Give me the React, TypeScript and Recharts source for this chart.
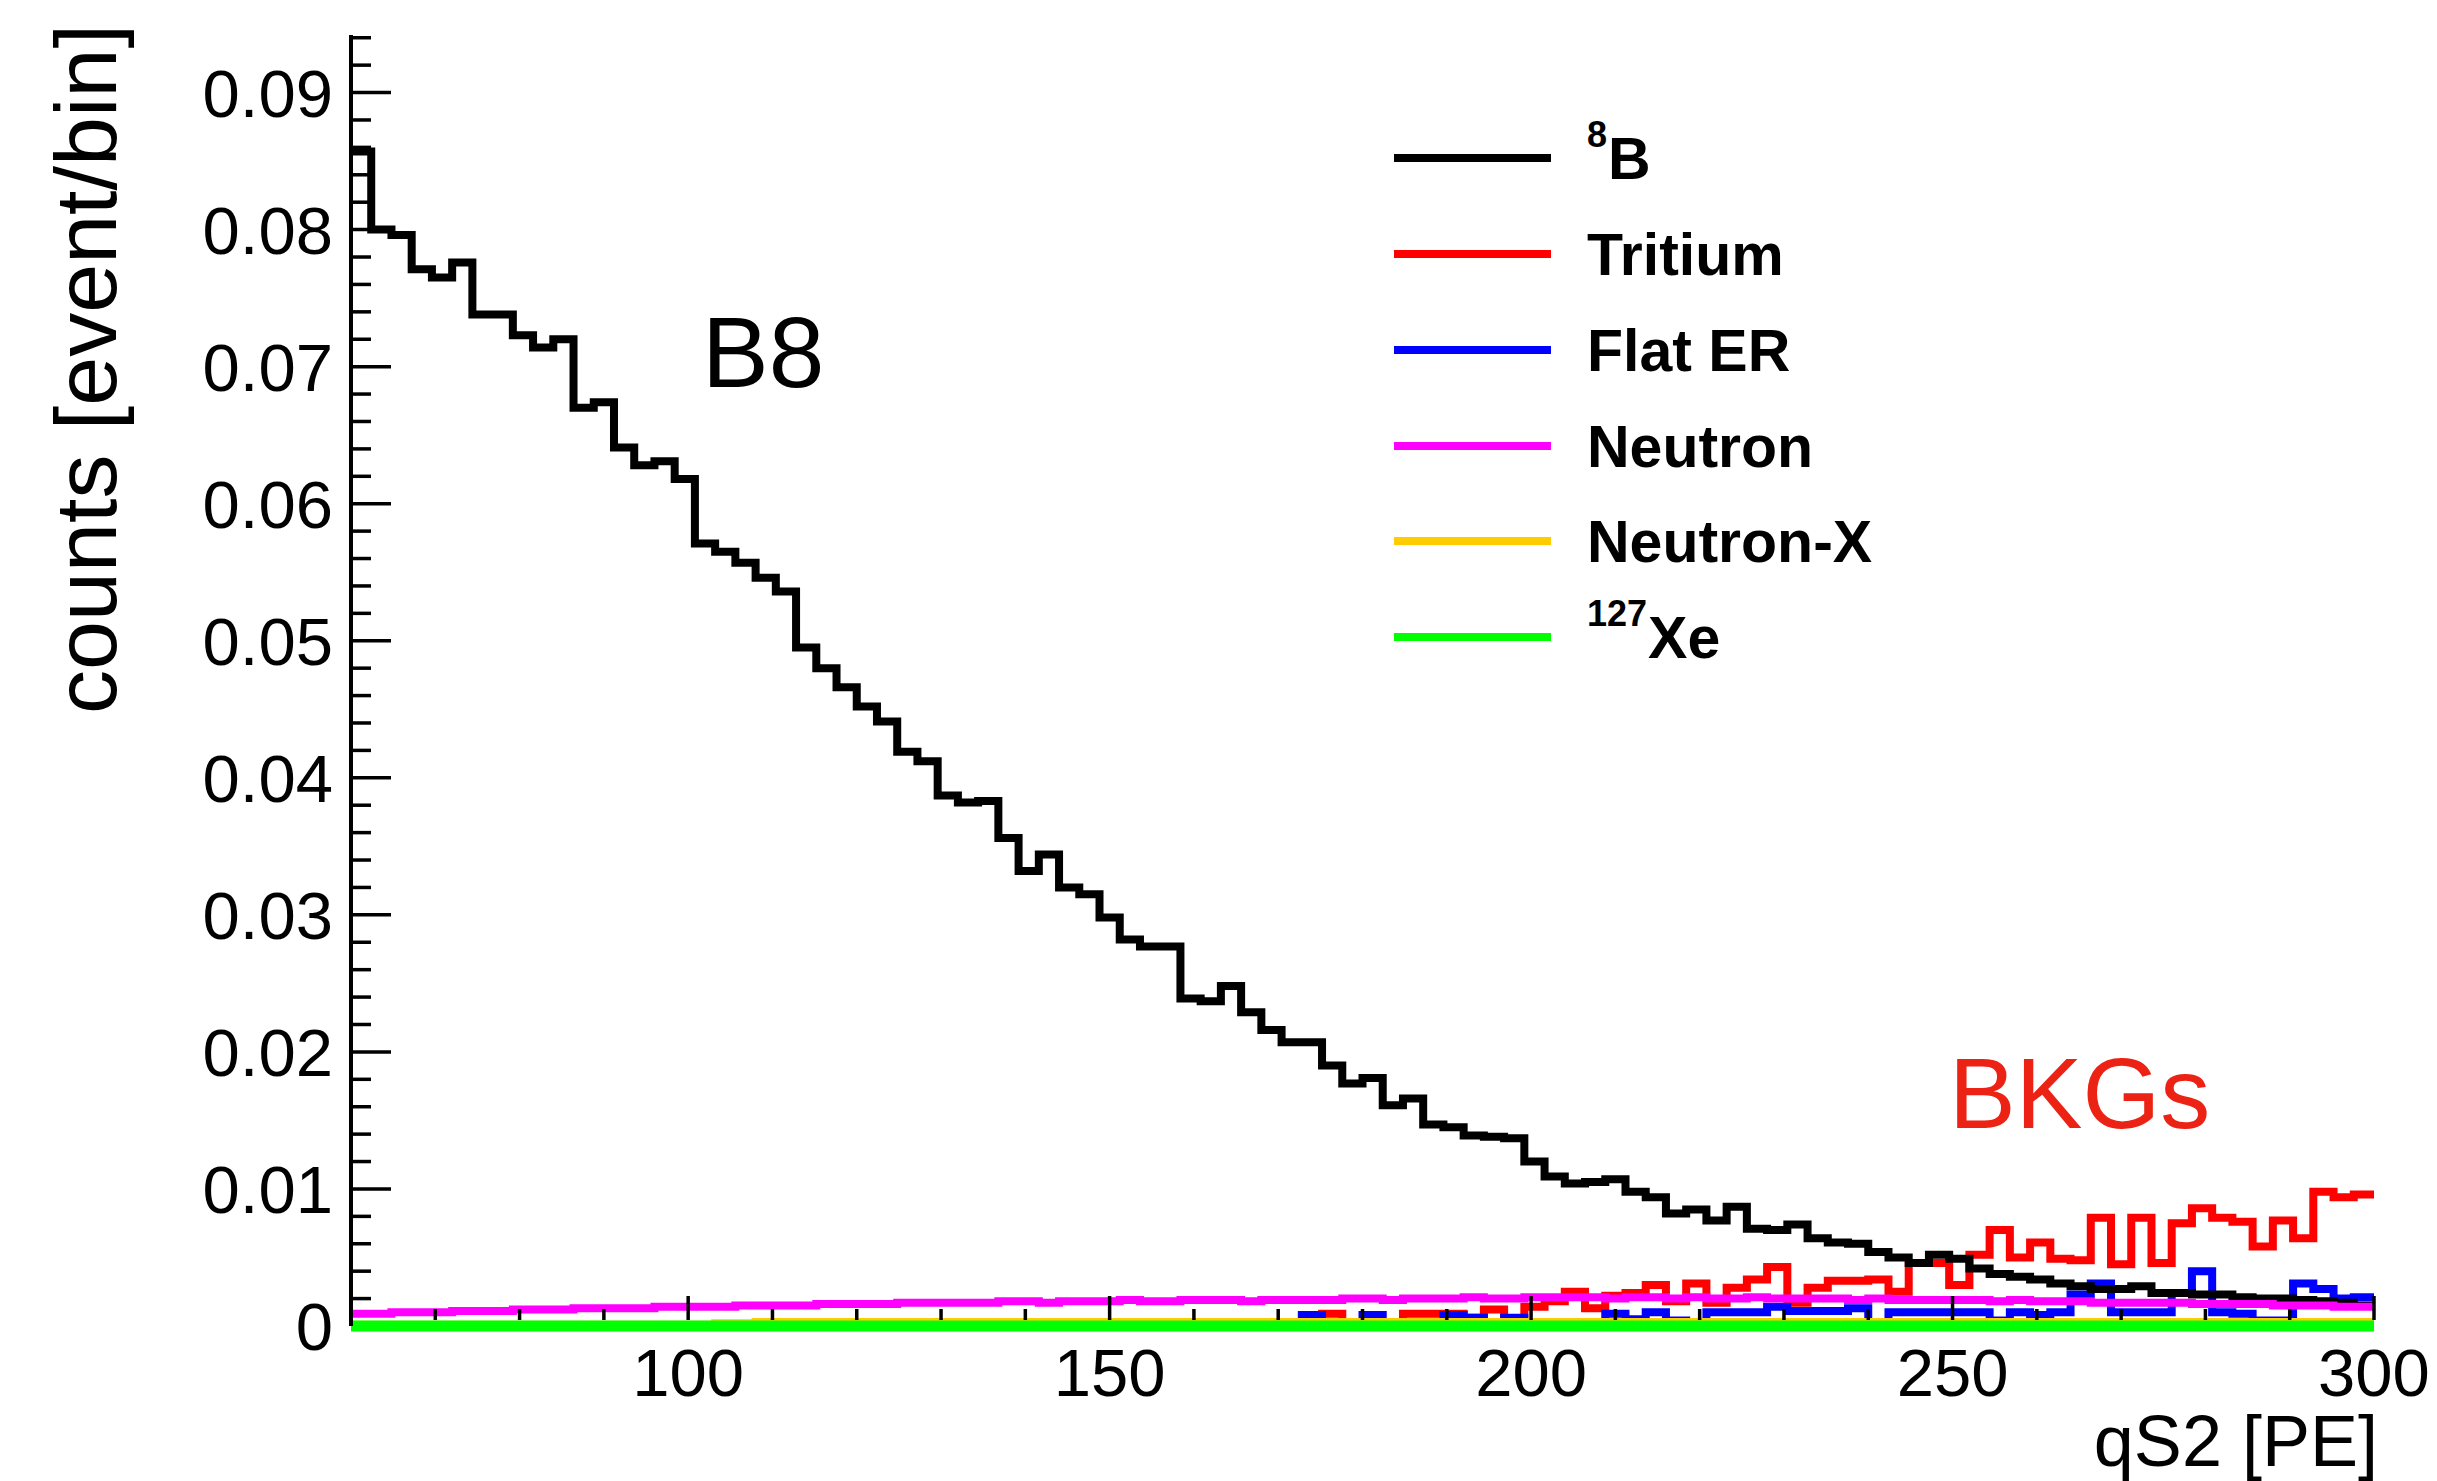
import { Line, LineChart, XAxis, YAxis } from 'recharts';

const FONT = '"Liberation Sans", Arial, Helvetica, sans-serif';
const W = 2437;
const H = 1481;

// 100 bins of 2.4 PE between 60 and 300 PE
const BIN_START = 60;
const BIN_END = 300;
const BIN_WIDTH = 2.4;

const b8 = [
  0.0857, 0.0800, 0.0796, 0.0771, 0.0765, 0.0776, 0.0738, 0.0738, 0.0723, 0.0714,
  0.0720, 0.0670, 0.0674, 0.0641, 0.0628, 0.0631, 0.0618, 0.0571, 0.0565, 0.0557,
  0.0546, 0.0536, 0.0495, 0.0480, 0.0466, 0.0452, 0.0441, 0.0419, 0.0412, 0.0387,
  0.0382, 0.0383, 0.0356, 0.0332, 0.0344, 0.0320, 0.0315, 0.0298, 0.0282, 0.0277,
  0.0277, 0.0239, 0.0237, 0.0248, 0.0229, 0.0216, 0.0207, 0.0207, 0.0190, 0.0177,
  0.0181, 0.0161, 0.0166, 0.0147, 0.0145, 0.0139, 0.0138, 0.0137, 0.0120, 0.0109,
  0.0104, 0.0105, 0.0107, 0.0098, 0.0094, 0.0082, 0.0085, 0.0077, 0.0087, 0.0071,
  0.0070, 0.0074, 0.0064, 0.0061, 0.0060, 0.0054, 0.0050, 0.0046, 0.0052, 0.0049,
  0.0042, 0.0038, 0.0036, 0.0034, 0.0031, 0.0029, 0.0027, 0.0027, 0.0029, 0.0024,
  0.0024, 0.0023, 0.0023, 0.0021, 0.0020, 0.0020, 0.0019, 0.0018, 0.0017, 0.0015,
];

const tritium = [
  0, 0, 0, 0, 0, 0, 0, 0, 0, 0,
  0, 0, 0, 0, 0, 0, 0, 0, 0, 0,
  0, 0, 0, 0, 0, 0, 0, 0, 0, 0.0003,
  0, 0, 0, 0, 0, 0, 0, 0, 0, 0,
  0, 0, 0, 0, 0.0002, 0.0002, 0, 0.0003, 0.0009, 0.0002,
  0.0003, 0.0003, 0.0009, 0.0009, 0.0009, 0.0006, 0.0012, 0.0005, 0.0014, 0.0018,
  0.0025, 0.0013, 0.0022, 0.0024, 0.0030, 0.0018, 0.0031, 0.0017, 0.0028, 0.0034,
  0.0043, 0.0017, 0.0028, 0.0033, 0.0033, 0.0034, 0.0025, 0.0046, 0.0046, 0.0030,
  0.0052, 0.0070, 0.0050, 0.0061, 0.0049, 0.0048, 0.0079, 0.0045, 0.0079, 0.0046,
  0.0075, 0.0086, 0.0079, 0.0076, 0.0058, 0.0077, 0.0064, 0.0098, 0.0094, 0.0096,
];

const flatER = [
  0, 0, 0, 0, 0, 0, 0, 0, 0, 0,
  0, 0, 0, 0, 0, 0, 0, 0, 0, 0,
  0, 0, 0, 0, 0, 0, 0, 0, 0, 0,
  0, 0, 0, 0, 0, 0, 0, 0, 0, 0,
  0, 0, 0, 0, 0, 0, 0.0002, 0.0008, 0.0003, 0.0001,
  0.0008, 0.0002, 0.0002, 0.0002, 0.0008, 0.0006, 0.0002, 0.0006, 0.0002, 0.0002,
  0.0003, 0.0002, 0.0009, 0.0005, 0.0010, 0.0004, 0.0003, 0.0010, 0.0010, 0.0010,
  0.0014, 0.0011, 0.0011, 0.0011, 0.0013, 0.0003, 0.0010, 0.0010, 0.0010, 0.0010,
  0.0010, 0.0004, 0.0010, 0.0008, 0.0010, 0.0023, 0.0031, 0.0010, 0.0010, 0.0010,
  0.0024, 0.0040, 0.0010, 0.0009, 0.0004, 0.0004, 0.0031, 0.0027, 0.0020, 0.0021,
];

const neutron = [
  0.0009, 0.0009, 0.0010, 0.0010, 0.0010, 0.0011, 0.0011, 0.0011, 0.0012, 0.0012,
  0.0012, 0.0013, 0.0013, 0.0013, 0.0013, 0.0014, 0.0014, 0.0014, 0.0014, 0.0015,
  0.0015, 0.0015, 0.0015, 0.0016, 0.0016, 0.0016, 0.0016, 0.0017, 0.0017, 0.0017,
  0.0017, 0.0017, 0.0018, 0.0018, 0.0017, 0.0018, 0.0018, 0.0018, 0.0019, 0.0018,
  0.0018, 0.0019, 0.0019, 0.0019, 0.0018, 0.0019, 0.0019, 0.0019, 0.0019, 0.0020,
  0.0020, 0.0019, 0.0020, 0.0020, 0.0020, 0.0021, 0.0020, 0.0020, 0.0021, 0.0021,
  0.0021, 0.0021, 0.0020, 0.0021, 0.0021, 0.0020, 0.0021, 0.0020, 0.0020, 0.0021,
  0.0020, 0.0020, 0.0020, 0.0020, 0.0019, 0.0020, 0.0019, 0.0019, 0.0019, 0.0019,
  0.0019, 0.0018, 0.0019, 0.0018, 0.0018, 0.0018, 0.0017, 0.0017, 0.0017, 0.0017,
  0.0017, 0.0016, 0.0016, 0.0016, 0.0016, 0.0015, 0.0015, 0.0015, 0.0014, 0.0014,
];

const neutronX = [
  0.0001, 0.0001, 0.0001, 0.0001, 0.0001, 0.0001, 0.0001, 0.0001, 0.0001, 0.0001,
  0.0001, 0.0001, 0.0001, 0.0001, 0.0001, 0.0001, 0.0001, 0.0001, 0.0002, 0.0002,
  0.0003, 0.0003, 0.0003, 0.0003, 0.0003, 0.0003, 0.0003, 0.0003, 0.0003, 0.0003,
  0.0003, 0.0003, 0.0003, 0.0003, 0.0003, 0.0003, 0.0003, 0.0003, 0.0003, 0.0003,
  0.0003, 0.0003, 0.0003, 0.0003, 0.0003, 0.0003, 0.0003, 0.0003, 0.0003, 0.0003,
  0.0003, 0.0003, 0.0003, 0.0003, 0.0003, 0.0003, 0.0003, 0.0003, 0.0003, 0.0003,
  0.0003, 0.0003, 0.0003, 0.0003, 0.0003, 0.0003, 0.0003, 0.0003, 0.0003, 0.0003,
  0.0003, 0.0003, 0.0003, 0.0003, 0.0003, 0.0003, 0.0003, 0.0003, 0.0003, 0.0003,
  0.0003, 0.0003, 0.0003, 0.0003, 0.0003, 0.0003, 0.0003, 0.0003, 0.0003, 0.0003,
  0.0003, 0.0003, 0.0003, 0.0003, 0.0003, 0.0003, 0.0003, 0.0003, 0.0003, 0.0003,
];

const xe127 = [
  0, 0, 0, 0, 0, 0, 0, 0, 0, 0,
  0, 0, 0, 0, 0, 0, 0, 0, 0, 0,
  0, 0, 0, 0, 0, 0, 0, 0, 0, 0,
  0, 0, 0, 0, 0, 0, 0, 0, 0, 0,
  0, 0, 0, 0, 0, 0, 0, 0, 0, 0,
  0, 0, 0, 0, 0, 0, 0, 0, 0, 0,
  0, 0, 0, 0, 0, 0, 0, 0, 0, 0,
  0, 0, 0, 0, 0, 0, 0, 0, 0, 0,
  0, 0, 0, 0, 0, 0, 0, 0, 0, 0,
  0, 0, 0, 0, 0, 0, 0, 0, 0, 0,
];

const xTicks = [60, 70, 80, 90, 100, 110, 120, 130, 140, 150, 160, 170, 180, 190, 200, 210, 220, 230, 240, 250, 260, 270, 280, 290, 300];
const xLabels = [100, 150, 200, 250, 300];

const yTicks = [
  0, 0.002, 0.004, 0.006, 0.008, 0.01, 0.012, 0.014, 0.016, 0.018,
  0.02, 0.022, 0.024, 0.026, 0.028, 0.03, 0.032, 0.034, 0.036, 0.038,
  0.04, 0.042, 0.044, 0.046, 0.048, 0.05, 0.052, 0.054, 0.056, 0.058,
  0.06, 0.062, 0.064, 0.066, 0.068, 0.07, 0.072, 0.074, 0.076, 0.078,
  0.08, 0.082, 0.084, 0.086, 0.088, 0.09, 0.092, 0.094,
];
const yLabels = [0, 0.01, 0.02, 0.03, 0.04, 0.05, 0.06, 0.07, 0.08, 0.09];
const Y_MAX = 0.0942;

// draw order: later series sit on top
const series = [
  { key: 'tritium', values: tritium, color: '#ff0000', width: 8 },
  { key: 'flatER', values: flatER, color: '#0000ff', width: 8 },
  { key: 'b8', values: b8, color: '#000000', width: 8 },
  { key: 'neutron', values: neutron, color: '#ff00ff', width: 8 },
  { key: 'neutronX', values: neutronX, color: '#ffcc00', width: 8 },
  { key: 'xe127', values: xe127, color: '#00ff00', width: 11 },
];

const legendItems = [
  { sup: '8', name: 'B', color: '#000000' },
  { sup: '', name: 'Tritium', color: '#ff0000' },
  { sup: '', name: 'Flat ER', color: '#0000ff' },
  { sup: '', name: 'Neutron', color: '#ff00ff' },
  { sup: '', name: 'Neutron-X', color: '#ffcc00' },
  { sup: '127', name: 'Xe', color: '#00ff00' },
];

// one row per bin low edge, plus the closing edge at 300 PE
const rows = b8.map((_, i) => {
  const row: Record<string, number> = { x: Math.round((BIN_START + i * BIN_WIDTH) * 10) / 10 };
  series.forEach((s) => { row[s.key] = s.values[i]; });
  return row;
});
const closing: Record<string, number> = { x: BIN_END };
series.forEach((s) => { closing[s.key] = s.values[s.values.length - 1]; });
rows.push(closing);

const isLabel = (list: number[], v: number) => list.some((l) => Math.abs(l - v) < 1e-9);

function BottomTick(props: any) {
  const { x, y, payload } = props;
  const major = isLabel(xLabels, payload.value);
  return (
    <g>
      <line x1={x} x2={x} y1={y - 6} y2={y - (major ? 30 : 17)} stroke="#000" strokeWidth={3.5} />
      {major && (
        <text x={x} y={y + 70} textAnchor="middle" fontSize={67} fontFamily={FONT} fill="#000">
          {payload.value}
        </text>
      )}
    </g>
  );
}

function TopTick(props: any) {
  const { x, y, payload } = props;
  const major = isLabel(xLabels, payload.value);
  return <line x1={x} x2={x} y1={y} y2={y + (major ? 30 : 17)} stroke="#000" strokeWidth={3.5} />;
}

function LeftTick(props: any) {
  const { x, y, payload } = props;
  const v = payload.value;
  const major = isLabel(yLabels, v);
  return (
    <g>
      {v > 0 && <line x1={x} x2={x + (major ? 40 : 20)} y1={y} y2={y} stroke="#000" strokeWidth={3.5} />}
      {major && (
        <text x={x - 18} y={y} dy={24} textAnchor="end" fontSize={67} fontFamily={FONT} fill="#000">
          {v === 0 ? '0' : v.toFixed(2)}
        </text>
      )}
    </g>
  );
}

function RightTick(props: any) {
  const { x, y, payload } = props;
  const major = isLabel(yLabels, payload.value);
  if (payload.value === 0) return <g />;
  return <line x1={x} x2={x - (major ? 40 : 20)} y1={y} y2={y} stroke="#000" strokeWidth={3.5} />;
}

const frame = { stroke: '#000', strokeWidth: 4 };

function Annotations() {
  const lineX1 = 1394;
  const lineX2 = 1551;
  const rowY = [158, 254, 350, 446, 541, 637];
  return (
    <svg width={W} height={H} style={{ position: 'absolute', left: 0, top: 0, pointerEvents: 'none' }}>
      <text
        transform="translate(116 369) rotate(-90)"
        textAnchor="middle"
        fontSize={88}
        fontFamily={FONT}
        fill="#000"
      >
        counts [event/bin]
      </text>
      <text x={2378} y={1466} textAnchor="end" fontSize={72} fontFamily={FONT} fill="#000">
        qS2 [PE]
      </text>
      <text x={702} y={387} fontSize={100} fontFamily={FONT} fill="#000">
        B8
      </text>
      <text x={1949} y={1128} fontSize={100} fontFamily={FONT} fill="#ec2214">
        BKGs
      </text>
      {legendItems.map((item, i) => (
        <g key={item.name}>
          <line x1={lineX1} x2={lineX2} y1={rowY[i]} y2={rowY[i]} stroke={item.color} strokeWidth={8} />
          <text x={1587} y={rowY[i] + 21} fontFamily={FONT} fontWeight="bold" fill="#000" fontSize={59}>
            {item.sup && (
              <tspan fontSize={36} dy={-32}>
                {item.sup}
              </tspan>
            )}
            <tspan dy={item.sup ? 32 : 0} dx={item.sup ? 1 : 0}>
              {item.name}
            </tspan>
          </text>
        </g>
      ))}
    </svg>
  );
}

export default function App() {
  return (
    <div style={{ position: 'absolute', left: 0, top: 0, width: W, height: H, background: '#fff' }}>
      <LineChart width={W} height={H} data={rows} margin={{ top: 35, right: 63, bottom: 0, left: 0 }}>
        {/* the 127Xe line lies on the lower frame edge, so that edge is left to it */}
        <XAxis
          dataKey="x"
          type="number"
          domain={[BIN_START, BIN_END]}
          ticks={xTicks}
          interval={0}
          height={155}
          tickSize={0}
          tickMargin={0}
          tickLine={false}
          axisLine={false}
          tick={(p: any) => <BottomTick {...p} />}
        />
        <XAxis
          xAxisId="top"
          orientation="top"
          dataKey="x"
          type="number"
          domain={[BIN_START, BIN_END]}
          ticks={xTicks}
          interval={0}
          height={0}
          tickSize={0}
          tickMargin={0}
          tickLine={false}
          axisLine={frame}
          tick={(p: any) => <TopTick {...p} />}
        />
        <YAxis
          type="number"
          domain={[0, Y_MAX]}
          ticks={yTicks}
          interval={0}
          width={351}
          tickSize={0}
          tickMargin={0}
          tickLine={false}
          axisLine={frame}
          tick={(p: any) => <LeftTick {...p} />}
        />
        <YAxis
          yAxisId="right"
          orientation="right"
          type="number"
          domain={[0, Y_MAX]}
          ticks={yTicks}
          interval={0}
          width={0}
          tickSize={0}
          tickMargin={0}
          tickLine={false}
          axisLine={frame}
          tick={(p: any) => <RightTick {...p} />}
        />
        {series.map((s) => (
          <Line
            key={s.key}
            dataKey={s.key}
            type="stepAfter"
            stroke={s.color}
            strokeWidth={s.width}
            strokeLinejoin="miter"
            dot={false}
            activeDot={false}
            isAnimationActive={false}
          />
        ))}
      </LineChart>
      <Annotations />
    </div>
  );
}
